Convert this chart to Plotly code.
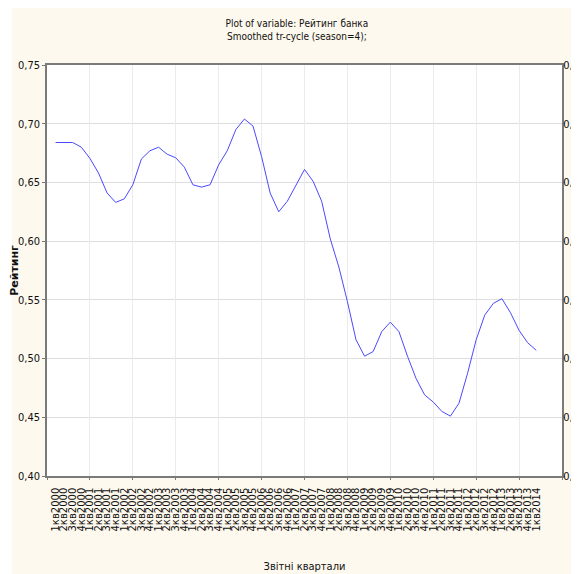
import plotly.graph_objects as go

# ---- data ----
quarter_labels = [
    "1кв2000", "2кв2000", "3кв2000", "4кв2000",
    "1кв2001", "2кв2001", "3кв2001", "4кв2001",
    "1кв2002", "2кв2002", "3кв2002", "4кв2002",
    "1кв2003", "2кв2003", "3кв2003", "4кв2003",
    "1кв2004", "2кв2004", "3кв2004", "4кв2004",
    "1кв2005", "2кв2005", "3кв2005", "4кв2005",
    "1кв2006", "2кв2006", "3кв2006", "4кв2006",
    "1кв2007", "2кв2007", "3кв2007", "4кв2007",
    "1кв2008", "2кв2008", "3кв2008", "4кв2008",
    "1кв2009", "2кв2009", "3кв2009", "4кв2009",
    "1кв2010", "2кв2010", "3кв2010", "4кв2010",
    "1кв2011", "2кв2011", "3кв2011", "4кв2011",
    "1кв2012", "2кв2012", "3кв2012", "4кв2012",
    "1кв2013", "2кв2013", "3кв2013", "4кв2013",
    "1кв2014",
]
case_numbers = list(range(1, len(quarter_labels) + 1))
rating_smoothed = [
    0.684, 0.684, 0.684, 0.680, 0.6705, 0.658, 0.641, 0.633, 0.636, 0.648,
    0.670, 0.677, 0.680, 0.674, 0.671, 0.663, 0.648, 0.646, 0.648, 0.665,
    0.677, 0.695, 0.704, 0.698, 0.672, 0.641, 0.625, 0.634, 0.648, 0.661,
    0.651, 0.634, 0.602, 0.578, 0.5485, 0.516, 0.502, 0.506, 0.523, 0.531,
    0.523, 0.502, 0.483, 0.469, 0.463, 0.455, 0.451, 0.462, 0.4875, 0.516,
    0.537, 0.547, 0.551, 0.539, 0.524, 0.5135, 0.507,
]
y_ticks = [0.40, 0.45, 0.50, 0.55, 0.60, 0.65, 0.70, 0.75]

title_text = "Plot of variable: Рейтинг банка<br>Smoothed tr-cycle (season=4);"
x_title = "Звітні квартали"
y_title = "Рейтинг"

# ---- style ----
NARROW = "Liberation Sans Narrow, Arial Narrow, DejaVu Sans Condensed, Liberation Sans, sans-serif"
CREAM = "#fef9ee"
AXIS_COL = "#7a7a7a"

fig = go.Figure()
fig.add_trace(go.Scatter(
    x=case_numbers, y=rating_smoothed, mode="lines",
    line=dict(color="#4a4aff", width=1), showlegend=False, hoverinfo="x+y",
))
# transparent copy to carry the overlay axes (grid every 5 cases, right-hand scale)
fig.add_trace(go.Scatter(
    x=case_numbers, y=rating_smoothed, mode="lines", xaxis="x2", yaxis="y2",
    line=dict(color="rgba(0,0,0,0)", width=0), showlegend=False, hoverinfo="skip",
))

fig.update_layout(
    width=571, height=566,
    margin=dict(l=39, r=17, t=57, b=98, autoexpand=False),
    paper_bgcolor=CREAM, plot_bgcolor="white",
    separators=", ",
    title=dict(text=title_text, xref="container", x=0.506, xanchor="center",
               yref="container", y=0.967, yanchor="middle",
               font=dict(family=NARROW, size=10, color="#111")),
    xaxis=dict(
        range=[0, 60], tickmode="array", tickvals=case_numbers, ticktext=quarter_labels,
        tickangle=-90, ticks="", showgrid=False, zeroline=False,
        showline=True, linecolor=AXIS_COL, linewidth=1.5, mirror=True,
        tickfont=dict(family="DejaVu Sans", size=10, color="#111"),
        ticklabelstandoff=6,
        title=dict(text=x_title, standoff=32, font=dict(family=NARROW, size=11, color="#111")),
    ),
    xaxis2=dict(
        range=[0, 60], overlaying="x", side="bottom", tick0=0, dtick=5,
        showticklabels=False, ticks="outside", ticklen=3, tickcolor=AXIS_COL,
        showgrid=True, gridcolor="#ebebeb", gridwidth=1, zeroline=False, showline=False,
    ),
    yaxis=dict(
        range=[0.40, 0.75], tickmode="array", tickvals=y_ticks, tickformat=".2f",
        ticks="outside", ticklen=3, tickcolor=AXIS_COL,
        showgrid=True, gridcolor="#dedede", gridwidth=1, zeroline=False,
        showline=True, linecolor=AXIS_COL, linewidth=1.5, mirror=True,
        tickfont=dict(family=NARROW, size=11, color="#111"),
        title=dict(text=y_title, standoff=4,
                   font=dict(family="DejaVu Sans", size=11, color="#111", weight="bold")),
    ),
    yaxis2=dict(
        range=[0.40, 0.75], overlaying="y", side="right", tickmode="array",
        tickvals=y_ticks, tickformat=".2f", ticks="outside", ticklen=2, tickcolor=AXIS_COL,
        ticklabelstandoff=-4,
        showgrid=False, zeroline=False, showline=False,
        tickfont=dict(family=NARROW, size=11, color="#111"),
    ),
    shapes=[dict(type="rect", xref="paper", yref="paper", x0=-0.2, x1=-0.068,
                 y0=-0.4, y1=1.3, fillcolor="white", line=dict(width=0), layer="below")],
)

fig.write_html("out.html")
